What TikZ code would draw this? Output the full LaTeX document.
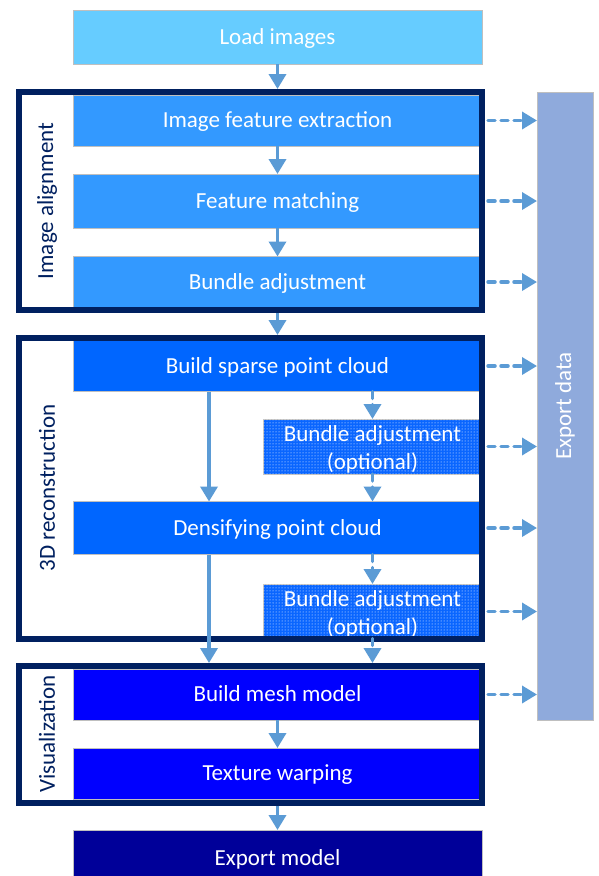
\documentclass[tikz,border=0pt]{standalone}
\usepackage{fontspec}
\setmainfont{Carlito}
\usetikzlibrary{arrows.meta,patterns}
\definecolor{cload}{HTML}{66CCFF}
\definecolor{calign}{HTML}{3399FF}
\definecolor{crecon}{HTML}{0066FF}
\definecolor{cvis}{HTML}{0000FF}
\definecolor{cexpm}{HTML}{000099}
\definecolor{cframe}{HTML}{002060}
\definecolor{cexpd}{HTML}{8FAADC}
\definecolor{carrow}{HTML}{5B9BD5}
\definecolor{cedge}{HTML}{BFBFBF}
\definecolor{cba}{HTML}{0A66FF}
\begin{document}
\begin{tikzpicture}[x=1pt,y=-1pt,
  txt/.style={font=\fontsize{23}{28}\selectfont},
  box/.style={txt,draw=cedge,line width=1pt,text=white,minimum width=409pt,inner sep=0pt,outer sep=0pt,text height=14.8pt,text depth=0pt},
  babox/.style={draw=cedge,line width=1pt,minimum width=219pt,inner sep=0pt,outer sep=0pt,fill=cba,postaction={pattern=dots,pattern color=white}},
  batext/.style={txt,text=white,align=center,inner sep=0pt},
  frame/.style={draw=cframe,line width=6pt,inner sep=0pt},
  flabel/.style={txt,text=cframe,rotate=90},
  arr/.style={draw=carrow,line width=3.5pt,-{Triangle[width=17pt,length=15pt]}},
  darr/.style={arr,line cap=round,dash pattern=on 7pt off 6pt},
]
\useasboundingbox[fill=white] (0,0) rectangle (598,876);
\coordinate (cl) at (209,0);
\coordinate (cr) at (372.5,0);
% boxes
\node[box,fill=cload,minimum height=54pt] (load) at (277.5,37) {Load images};
\node[box,fill=calign,minimum height=51pt] (ife) at (277.5,120.5) {Image feature extraction};
\node[box,fill=calign,minimum height=54pt] (fm) at (277.5,201) {Feature matching};
\node[box,fill=calign,minimum height=51pt] (ba) at (277.5,282) {Bundle adjustment};
\node[box,fill=crecon,minimum height=51pt] (sparse) at (277.5,366) {Build sparse point cloud};
\node[babox,minimum height=55pt] (ba1) at (372.5,446.5) {};
\node[batext] at ([yshift=-3pt]ba1.center) {Bundle adjustment\\(optional)};
\node[box,fill=crecon,minimum height=53pt] (dense) at (277.5,528) {Densifying point cloud};
\node[babox,minimum height=55pt] (ba2) at (372.5,611.5) {};
\node[batext] at ([yshift=-3pt]ba2.center) {Bundle adjustment\\(optional)};
\node[box,fill=cvis,minimum height=51pt] (mesh) at (277.5,694.5) {Build mesh model};
\node[box,fill=cvis,minimum height=51pt] (tex) at (277.5,773.5) {Texture warping};
\node[box,fill=cexpm,minimum height=56pt] (expm) at (277.5,858) {Export model};
% export data
\node[draw=cedge,line width=1pt,fill=cexpd,minimum width=56pt,minimum height=628pt,inner sep=0pt,outer sep=0pt] (expd) at (565,406) {};
\node[txt,text=white,rotate=90] at (expd.center) {Export data};
% frames
\node[frame,minimum width=463.5pt,minimum height=218pt] (f1) at (250.25,201) {};
\node[frame,minimum width=463.5pt,minimum height=300.5pt] (f2) at (250.25,488.25) {};
\node[frame,minimum width=463.5pt,minimum height=136.5pt] (f3) at (250.25,734.25) {};
\node[flabel] at (47,201) {Image alignment};
\node[flabel] at (47,488) {3D reconstruction};
\node[flabel] at (47,734) {Visualization};
% vertical arrows
\draw[arr] (load.south) -- (load.south |- f1.north);
\draw[arr] (ife.south) -- (fm.north);
\draw[arr] (fm.south) -- (ba.north);
\draw[arr] (ba.south |- f1.south) -- (ba.south |- f2.north);
\draw[arr] (sparse.south -| cl) -- (dense.north -| cl);
\draw[darr] (sparse.south -| cr) -- (ba1.north);
\draw[darr] (ba1.south) -- (dense.north -| cr);
\draw[arr] (dense.south -| cl) -- (f3.north -| cl);
\draw[darr] (dense.south -| cr) -- (ba2.north);
\draw[darr] ([yshift=3pt]f2.south -| cr) -- (f3.north -| cr);
\draw[arr] (mesh.south) -- (tex.north);
\draw[arr] (tex.south |- f3.south) -- (expm.north);
% dashed arrows to export data
\foreach \n in {ife,fm,ba,sparse,ba1,dense,ba2,mesh}{
  \draw[darr] ([xshift=6pt]\n.east) -- (\n.east -| expd.west);
}
\end{tikzpicture}
\end{document}
